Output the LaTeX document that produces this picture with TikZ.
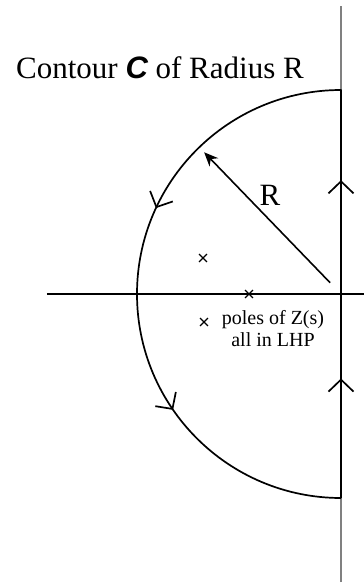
\documentclass[tikz,border=0pt]{standalone}
\usepackage{fontspec}
\setmainfont{Liberation Serif}
\newfontfamily\contoursans{Liberation Sans}
\usetikzlibrary{arrows.meta,decorations.markings,shapes.misc}

\tikzset{
  pole/.style={draw,cross out,minimum size=6.5pt,inner sep=0pt,line width=1.3pt},
  barb/.tip={Straight Barb[length=12pt,width=25pt]},
  contour/.style={line width=1.7pt,line join=round,postaction={decorate},
    decoration={markings,
      mark=at position 0.114 with {\arrow{barb}},
      mark=at position 0.303 with {\arrow{barb}},
      mark=at position 0.610 with {\arrow{barb}},
      mark=at position 0.812 with {\arrow{barb}}}}
}

\begin{document}
\begin{tikzpicture}[x=1pt,y=1pt]
\useasboundingbox (-341,-290) rectangle (23,294);

% axes
\coordinate (O) at (0,0);
\coordinate (jtop) at (0,288);
\coordinate (jbot) at (0,-288);
\coordinate (sleft) at (-294,0);
\coordinate (sright) at (23,0);
\draw[gray,line width=1.1pt] (jbot) -- (jtop);
\draw[line width=1.1pt] (sleft) -- (sright);

% contour C
\coordinate (cbot) at (0,-204);
\coordinate (ctop) at (0,204);
\draw[contour] (cbot) -- (ctop) arc[start angle=90,end angle=270,radius=204pt];

% radius
\coordinate (rfrom) at (134:15.6pt);
\coordinate (rto) at (134:197pt);
\draw[line width=1.6pt,-{Stealth[length=14pt,width=12pt]}] (rfrom) -- (rto);
\node[font=\fontsize{31}{36}\selectfont] (rlabel) at (-71,99) {R};

% poles
\node[pole] (p1) at (-138,36) {};
\node[pole] (p2) at (-92,0) {};
\node[pole] (p3) at (-137,-28) {};
\node[font=\fontsize{20}{22}\selectfont,align=center] (poles) at (-68,-35) {poles of Z(s)\\all in LHP};

\node[font=\fontsize{31}{36}\selectfont] (title) at (-181,226) {Contour {\contoursans\bfseries\itshape C} of Radius R};
\end{tikzpicture}
\end{document}
